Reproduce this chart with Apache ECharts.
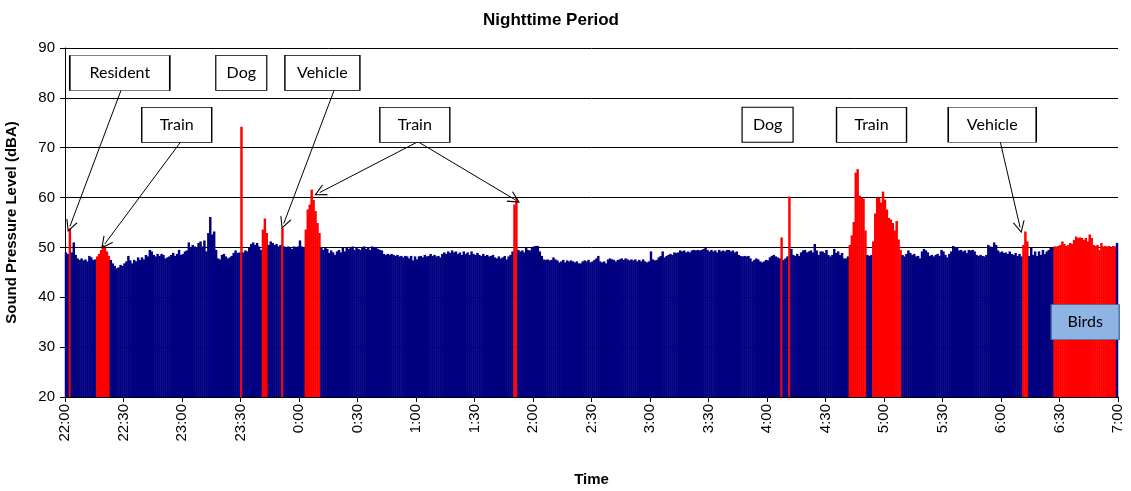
<!DOCTYPE html>
<html>
<head>
<meta charset="utf-8">
<script src="https://cdn.jsdelivr.net/npm/echarts@6/dist/echarts.min.js"></script>
<style>html,body{margin:0;padding:0;background:#fff}#c{width:1131px;height:491px}</style>
</head>
<body>
<div id="c"></div>
<script>
// ---- DATA (1-minute levels, dBA) ----
const h22 = [49,48.7,53.8,49,51,48.5,47.8,47.5,47.8,47.4, 47.6,47.2,48.3,48,47.5,47.6,48.2,48.7,49.5,50.5, 49.9,49.2,48.3,47.5,46.8,46.3,45.8,46,46.5,46.3, 46.8,47.2,48.3,47.4,46.8,47.5,47.2,48,47.5,48, 47.6,48.5,48.2,49.5,49.2,48.5,48.2,48.7,48.3,48.7, 48.5,47.8,48,48.2,48.5,48.9,48.3,48.7,49.5,48.5];
const h23 = [48.7,49.2,49.4,51,49.9,50.5,50.2,49.9,50.9,51.2, 50.2,51.4,49.2,52.9,56.1,52.6,53.2,49.5,47.8,47.6, 48.5,48.7,48.2,47.8,48,48.3,48.9,49.4,48.9,49, 74.2,49,49.4,49.2,49.9,50.7,51,50.5,50.9,50.2, 49.5,53.6,55.8,52.9,50.5,51.2,50.9,50.5,50.7,50.2, 50.5,53.9,50.2,49.9,50.2,49.9,49.7,50.2,49.9,50.2];
const h00 = [51.4,50.2,49.9,53.6,57.6,58.6,61.6,59.5,57.3,54.9, 52.9,49.9,49.5,49.9,49.7,48.9,49.4,49,48.5,49.2, 49.5,49,49.9,49.2,49.9,49.7,49.9,50.2,49.5,49.9, 49.7,49.5,49.9,50.2,49.7,49.9,49.5,50.2,49.9,50.1, 49.7,49.5,49.4,48.7,48.5,48.7,48.5,48.7,48.5,48.3, 48.5,48.2,48.3,48,48.3,48.2,47.8,48.3,47.4,48.2];
const h01 = [47.6,48.2,48.3,48,48.5,48.2,48.3,48.7,48.3,48.5, 48.2,48.3,48,48.7,49,48.7,49.2,48.9,49.4,49, 49.2,48.7,49,48.5,49.2,48.7,49,48.5,49.2,48.7, 48.5,48.9,48.5,48.3,48.7,48.3,48.5,48.2,48.3,48.5, 48,47.8,48.2,47.8,48,48.3,47.6,48.2,48.5,49.2, 58.6,59.9,49.5,49.2,49.4,49,49.9,49.5,49.4,49.9];
const h02 = [50.2,50.3,50.3,49.2,48.3,47.6,47.5,47.6,47.4,47.5, 48,47.6,47.4,47,47.2,47.5,47,47.4,47.2,47.4, 47.2,47,47.2,46.8,46.8,47.2,47.4,47.2,47.5,47, 47.2,47.5,47.8,48.3,47.2,47,47.2,46.8,47.6,47.8, 47.6,47.5,47.2,47.5,47.6,47.8,47.5,47.8,47.6,47.4, 47.6,47.4,47.6,47.2,47.5,47.2,47.6,47.2,47,47.2];
const h03 = [49.2,47.6,47.4,47.5,48,48.3,49.2,48,48.3,48.5, 48.7,48.5,49,48.9,49,49.4,49.2,49.4,49,49.2, 49,49.4,49.5,49.4,49.5,49.4,49.5,49.7,49.9,49.5, 49.2,49.5,49.2,49.4,49,49.5,49.2,49.4,49.2,49.5, 49.5,49.2,49.4,49,49.2,48.5,48.3,48.2,48.3,48.2, 48.3,47.8,47.2,47.5,47.8,47.6,47.2,47,47.2,47.5];
const h04 = [47.4,48,48.3,48.5,48.2,48,47.8,52,47.5,47.8, 48.2,60.2,49.7,48.5,48.3,48.7,48.3,49,49.4,49.5, 49,49.2,49.4,49,50.7,49.4,48.5,49.2,49.2,48.9, 49.5,48.5,48.2,48.5,49.7,48.9,49.2,48.5,48.9,47.8, 47.8,48.2,50.5,52.4,55.1,65,65.7,60.4,60,59.8, 53.4,48.5,48.3,48.5,51.2,56.8,60,60,59,61.2];
const h05 = [59.6,57.6,55.9,55.6,54.9,53.4,55.3,51.6,49.5,48.5, 48.2,48.7,49.4,48.9,48.5,48.7,48.2,48.3,47.8,49.2, 49.7,49.4,49,48.3,48.5,48.2,48.5,48.7,48.3,49.5, 49.2,48.5,48,48.7,49.2,50.3,49.9,50.1,49.4,49.5, 49.2,49.4,48.9,49.5,49.4,49.5,49.2,48.5,48.3,48.5, 48.3,48.2,48.5,50.5,50.2,49.9,51,50.5,49.4,49];
const h06 = [49.2,48.9,49,48.7,49.2,48.7,48.5,48.9,48.3,48.7, 48.2,50.5,53.2,51.2,48.3,49.9,48.5,49.2,48.3,49.2, 48.5,49.5,48.7,49.2,49.5,49.9,49.9,50.2,50.2,50.3, 50.5,51.2,50.7,50.3,50.5,50.9,50.7,51.5,52.2,51.9, 52,51.9,51.5,51.9,51.2,52.6,51.9,50.5,50.3,50.5, 49.5,50.9,50.2,50.3,50.2,50.3,49.9,50.3,50.2,50.9];

// minute index ranges (inclusive) flagged as identified events
const eventRanges = [[2,2],[16,22],[90,90],[101,103],[111,111],[123,130],[230,231],[367,367],[371,371],[402,410],[414,428],[491,493],[507,538]];

const tickLabels = ['22:00','22:30','23:00','23:30','0:00','0:30','1:00','1:30','2:00','2:30','3:00','3:30','4:00','4:30','5:00','5:30','6:00','6:30','7:00'];

// annotation boxes: text, minute, dBA
const boxLabels = ['Resident','Train','Dog','Vehicle','Train','Dog','Train','Vehicle','Birds'];
const boxMinutes = [28.1, 57.3, 90.4, 132, 179.4, 360.3, 413.6, 475.5, 523.2];
const boxLevels  = [85, 74.6, 85, 85, 74.6, 74.6, 74.6, 74.6, 35];

// arrows: from [minute, dBA] to [minute, dBA]
const arrowFrom = [[29.1,81.9],[59.4,71.2],[137.9,81.4],[181,71.2],[181,71.2],[479.6,71.2]];
const arrowTo   = [[2.5,54.2],[20.4,50.7],[112.2,54.8],[130.6,61],[230.7,59.6],[489.8,54]];

// ---- BUILD ----
const values = [].concat(h22,h23,h00,h01,h02,h03,h04,h05,h06);
const isEvent = values.map((v,i)=>eventRanges.some(r=>i>=r[0]&&i<=r[1]));
const NAVY = '#000080', RED = '#FF0000';

const boxW = [100,70,51,75,70,51,70,88,68];
const markData = boxLabels.map((t,i)=>{
  const birds = t==='Birds';
  return {
    coord:[boxMinutes[i], boxLevels[i]],
    symbol:'rect', symbolSize:[boxW[i],35],
    itemStyle:{color: birds?'#8DB4E2':'#ffffff', borderColor: birds?'#4F6F9A':'#000', borderWidth:1, shadowBlur:0},
    label:{show:true, position:'inside', formatter:t, color:'#000', fontSize:16, fontFamily:'Lato, "Open Sans", sans-serif'}
  };
});
const lineData = arrowFrom.map((f,i)=>[{coord:f},{coord:arrowTo[i]}]);

const chart = echarts.init(document.getElementById('c'), null, {renderer:'canvas'});
const gridLeft = 65, gridRight = 13;
const barW = (1131 - gridLeft - gridRight) / values.length;
const FONT = 'Liberation Sans, Arial, sans-serif';

chart.setOption({
  animation:false,
  backgroundColor:'#fff',
  title:{text:'Nighttime Period', left:478, top:7, textStyle:{fontFamily:FONT, fontWeight:'bold', fontSize:17, color:'#000'}},
  grid:{left:gridLeft, right:gridRight, top:48, bottom:94, containLabel:false, outerBoundsMode:'none'},
  xAxis:{
    type:'value', min:0, max:540, interval:30,
    name:'Time', nameLocation:'middle', nameGap:75,
    nameTextStyle:{fontFamily:FONT, fontWeight:'bold', fontSize:15, color:'#000'},
    axisLine:{show:true, lineStyle:{color:'#000', width:1}},
    axisTick:{show:true, length:5, lineStyle:{color:'#000'}},
    splitLine:{show:false},
    axisLabel:{rotate:90, margin:7, fontFamily:FONT, fontSize:15, color:'#000',
      formatter:(v)=>tickLabels[Math.round(v/30)]}
  },
  yAxis:{
    type:'value', min:20, max:90, interval:10,
    name:'Sound Pressure Level (dBA)', nameLocation:'middle', nameGap:46, nameRotate:90,
    nameTextStyle:{fontFamily:FONT, fontWeight:'bold', fontSize:15, color:'#000'},
    axisLine:{show:true, lineStyle:{color:'#000', width:1}},
    axisTick:{show:true, length:5, lineStyle:{color:'#000'}},
    splitLine:{show:true, lineStyle:{color:'#000', width:1}},
    axisLabel:{margin:10, fontFamily:FONT, fontSize:15, color:'#000'}
  },
  series:[{
    type:'bar',
    barWidth:barW + 0.5,
    data:values.map((v,i)=>({value:[i+0.5, v], itemStyle:{color: isEvent[i]?RED:NAVY}})),
    markPoint:{silent:true, data:markData, z:10},
    markLine:{silent:true, symbol:['none','path://M0,10 L5,0 L10,10 L9,10 L5,2 L1,10 Z'], symbolSize:[12,12],
      lineStyle:{color:'#000', width:1, type:'solid'}, label:{show:false}, data:lineData}
  }]
});
</script>
</body>
</html>
